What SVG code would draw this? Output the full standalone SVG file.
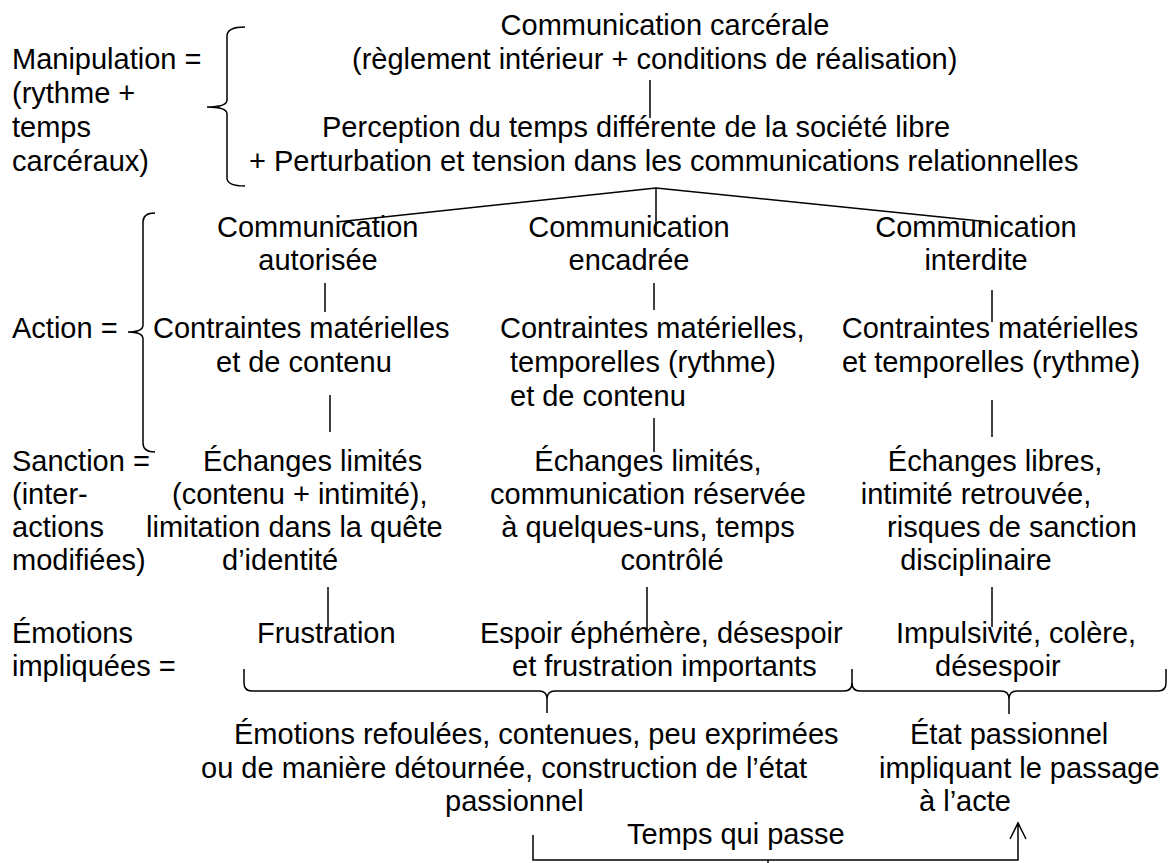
<svg xmlns="http://www.w3.org/2000/svg" width="1172" height="863" viewBox="0 0 1172 863">
<style>
text{font-family:"Liberation Sans",Arial,sans-serif;font-size:29px;fill:#000}
.m{text-anchor:middle}
.ln{stroke:#000;stroke-width:1.5;fill:none}
</style>
<rect width="1172" height="863" fill="#fff"/>
<g id="labels">
<text x="12" y="69">Manipulation =</text>
<text x="12" y="103">(rythme +</text>
<text x="12" y="137">temps</text>
<text x="12" y="171">carcéraux)</text>
<text x="12" y="338">Action =</text>
<text x="12" y="471">Sanction =</text>
<text x="12" y="504">(inter-</text>
<text x="12" y="537">actions</text>
<text x="12" y="570">modifiées)</text>
<text x="12" y="643">Émotions</text>
<text x="12" y="676">impliquées =</text>
</g>
<g id="n-carcerale">
<text class="m" x="665" y="35">Communication carcérale</text>
<text x="352" y="69">(règlement intérieur + conditions de réalisation)</text>
</g>
<g id="n-perception">
<text x="322" y="137">Perception du temps différente de la société libre</text>
<text x="249" y="171">+ Perturbation et tension dans les communications relationnelles</text>
</g>
<g id="n-autorisee">
<text x="217" y="237">Communication</text>
<text class="m" x="318" y="270">autorisée</text>
</g>
<g id="n-encadree">
<text class="m" x="629" y="237">Communication</text>
<text class="m" x="629" y="270">encadrée</text>
</g>
<g id="n-interdite">
<text class="m" x="976" y="237">Communication</text>
<text class="m" x="976" y="270">interdite</text>
</g>
<g id="n-contraintes1">
<text x="153" y="338">Contraintes matérielles</text>
<text x="216" y="372">et de contenu</text>
</g>
<g id="n-contraintes2">
<text x="500" y="338">Contraintes matérielles,</text>
<text x="510" y="372">temporelles (rythme)</text>
<text x="510" y="406">et de contenu</text>
</g>
<g id="n-contraintes3">
<text class="m" x="990" y="338">Contraintes matérielles</text>
<text class="m" x="991" y="372">et temporelles (rythme)</text>
</g>
<g id="n-echanges1">
<text x="203" y="471">Échanges limités</text>
<text x="172" y="504">(contenu + intimité),</text>
<text x="146" y="537">limitation dans la quête</text>
<text x="222" y="570">d’identité</text>
</g>
<g id="n-echanges2">
<text class="m" x="648" y="471">Échanges limités,</text>
<text class="m" x="648" y="504">communication réservée</text>
<text class="m" x="648" y="537">à quelques-uns, temps</text>
<text class="m" x="672" y="570">contrôlé</text>
</g>
<g id="n-echanges3">
<text class="m" x="995" y="471">Échanges libres,</text>
<text class="m" x="976" y="504">intimité retrouvée,</text>
<text class="m" x="1012" y="537">risques de sanction</text>
<text class="m" x="976" y="570">disciplinaire</text>
</g>
<g id="n-frustration">
<text x="257" y="643">Frustration</text>
</g>
<g id="n-espoir">
<text x="480" y="643">Espoir éphémère, désespoir</text>
<text x="512" y="676">et frustration importants</text>
</g>
<g id="n-impulsivite">
<text x="896" y="643">Impulsivité, colère,</text>
<text x="935" y="676">désespoir</text>
</g>
<g id="n-refoulees">
<text x="234" y="744">Émotions refoulées, contenues, peu exprimées</text>
<text x="201" y="778">ou de manière détournée, construction de l’état</text>
<text x="445" y="811">passionnel</text>
</g>
<g id="n-passionnel">
<text x="910" y="744">État passionnel</text>
<text x="879" y="778">impliquant le passage</text>
<text x="919" y="811">à l’acte</text>
</g>
<g id="n-temps">
<text x="627" y="844">Temps qui passe</text>
</g>
<g id="connectors" class="ln">
<path d="M245,27 Q227,27 227,36 L227,100 Q227,107 207,107 Q227,107 227,114 L227,178 Q227,186 245,186"/>
<path d="M155,213 Q143,213 143,222 L143,325 Q143,332 128,332 Q143,332 143,339 L143,443 Q143,452 155,452"/>
<line x1="650" y1="80" x2="650" y2="118"/>
<path d="M337,222 L656,188 L990,222 M656,188 L656,232"/>
<line x1="325" y1="283" x2="325" y2="312"/>
<line x1="654" y1="283" x2="654" y2="310"/>
<line x1="992" y1="290" x2="992" y2="322"/>
<line x1="330" y1="395" x2="330" y2="432"/>
<line x1="654" y1="418" x2="654" y2="452"/>
<line x1="992" y1="400" x2="992" y2="437"/>
<line x1="328" y1="587" x2="328" y2="630"/>
<line x1="647" y1="587" x2="647" y2="630"/>
<line x1="992" y1="587" x2="992" y2="627"/>
<path d="M244,669 L244,683 Q244,691 252,691 L539,691 Q547,691 547,699 L547,713 M547,699 Q547,691 555,691 L844,691 Q852,691 852,683 L852,669"/>
<path d="M852,683 Q852,691 860,691 L1001,691 Q1009,691 1009,699 L1009,714 M1009,699 Q1009,691 1017,691 L1158,691 Q1166,691 1166,683 L1166,669"/>
<path d="M533,835 L533,860 L1018,860 L1018,823 M768,860 L768,863 M1010,839 L1018,823 L1026,839"/>
</g>
</svg>
